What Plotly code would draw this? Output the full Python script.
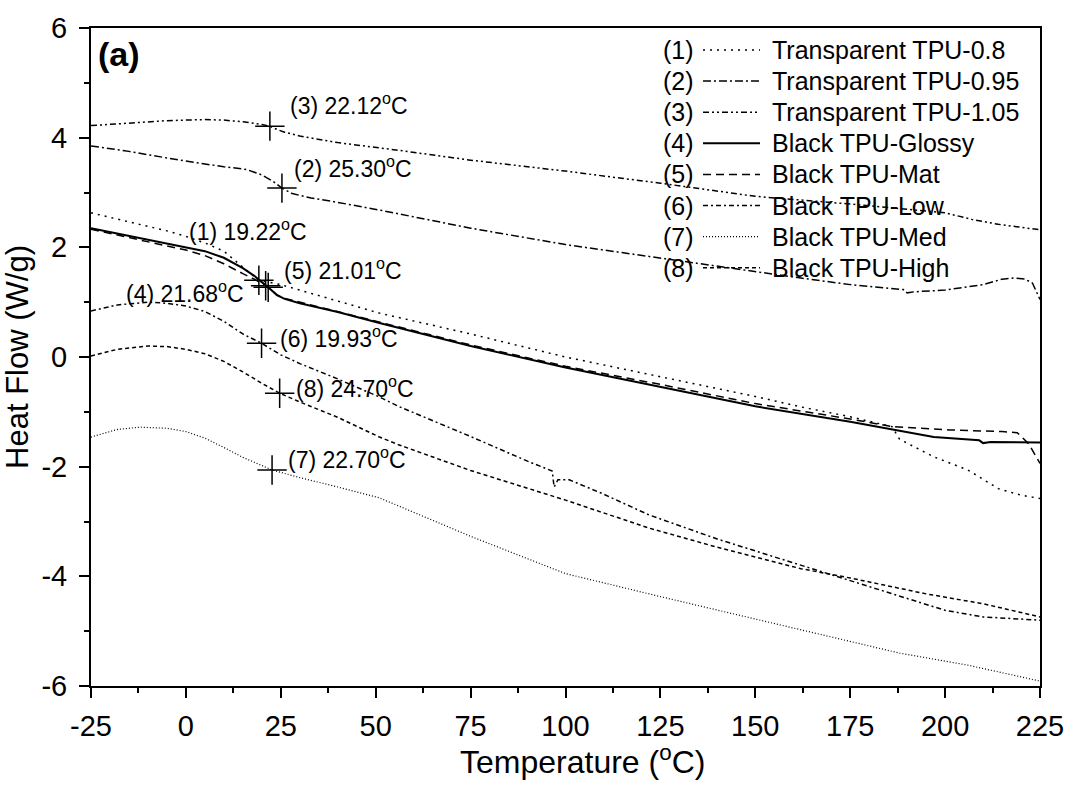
import plotly.graph_objects as go

# ---------------- data ----------------
names = ["Transparent TPU-0.8", "Transparent TPU-0.95", "Transparent TPU-1.05",
         "Black TPU-Glossy", "Black TPU-Mat", "Black TPU-Low", "Black TPU-Med", "Black TPU-High"]
labels_num = ["(1)", "(2)", "(3)", "(4)", "(5)", "(6)", "(7)", "(8)"]

t1 = [-25, -15, -5, 0, 5, 10, 13, 16, 19.22, 22, 25, 30, 40, 51, 75, 100, 125, 150, 162, 175, 186, 188, 197, 206, 214, 220, 225]
h1 = [2.63, 2.47, 2.30, 2.20, 2.08, 1.93, 1.75, 1.58, 1.40, 1.36, 1.32, 1.22, 1.02, 0.80, 0.42, 0.00, -0.36, -0.72, -0.91, -1.09, -1.27, -1.50, -1.82, -2.06, -2.40, -2.52, -2.58]

t2 = [-25, -15, -5, 0, 5, 10, 16, 20, 23, 25.3, 28, 33, 40, 51, 75, 100, 125, 150, 162, 175, 189, 190, 192, 200, 210, 215, 218, 221, 223, 225]
h2 = [3.85, 3.75, 3.63, 3.57, 3.52, 3.47, 3.42, 3.32, 3.20, 3.08, 2.98, 2.90, 2.82, 2.68, 2.35, 2.05, 1.80, 1.56, 1.44, 1.32, 1.23, 1.17, 1.19, 1.22, 1.32, 1.42, 1.44, 1.42, 1.35, 1.05]

t3 = [-25, -15, -5, 0, 5, 10, 15, 20, 22.12, 24, 26, 30, 40, 56, 75, 100, 125, 150, 175, 200, 207, 214, 220, 225]
h3 = [4.22, 4.27, 4.31, 4.32, 4.33, 4.32, 4.29, 4.24, 4.21, 4.15, 4.10, 4.03, 3.91, 3.77, 3.59, 3.39, 3.17, 2.93, 2.79, 2.63, 2.51, 2.42, 2.36, 2.32]

t4 = [-25, -15, -5, 0, 5, 10, 15, 18, 20, 21.68, 24, 26, 30, 40, 51, 75, 100, 125, 150, 175, 197, 209, 210, 212, 225]
h4 = [2.35, 2.21, 2.08, 2.00, 1.93, 1.81, 1.62, 1.48, 1.37, 1.27, 1.13, 1.06, 0.98, 0.82, 0.62, 0.20, -0.19, -0.55, -0.90, -1.18, -1.46, -1.52, -1.57, -1.55, -1.56]

t5 = [-25, -15, -5, 0, 5, 10, 15, 18, 21.01, 24, 26, 30, 40, 51, 75, 100, 125, 150, 175, 186, 201, 215, 219, 222, 225]
h5 = [2.33, 2.18, 2.03, 1.95, 1.85, 1.70, 1.52, 1.42, 1.30, 1.13, 1.07, 1.00, 0.83, 0.64, 0.22, -0.17, -0.50, -0.85, -1.13, -1.27, -1.33, -1.36, -1.38, -1.58, -1.94]

t6 = [-25, -18, -10, -5, 0, 5, 10, 15, 19.93, 25, 30, 40, 51, 56, 75, 90, 96.5, 97, 98, 101, 110, 122, 140, 162, 175, 190, 195, 200, 210, 225]
h6 = [0.84, 0.95, 1.00, 0.98, 0.93, 0.83, 0.65, 0.42, 0.25, 0.04, -0.12, -0.40, -0.73, -0.90, -1.45, -1.90, -2.08, -2.37, -2.24, -2.24, -2.50, -2.88, -3.32, -3.80, -4.08, -4.40, -4.52, -4.62, -4.74, -4.80]

t7 = [-25, -18, -12, -5, 0, 5, 10, 15, 22.70, 30, 40, 51, 75, 100, 125, 150, 175, 188, 206, 225]
h7 = [-1.46, -1.32, -1.28, -1.30, -1.36, -1.48, -1.65, -1.83, -2.06, -2.20, -2.37, -2.57, -3.27, -3.95, -4.37, -4.78, -5.18, -5.40, -5.62, -5.91]

t8 = [-25, -18, -10, -5, 0, 5, 10, 15, 20, 24.70, 30, 40, 51, 56, 75, 100, 122, 140, 162, 175, 195, 210, 225]
h8 = [0.02, 0.14, 0.20, 0.19, 0.14, 0.06, -0.08, -0.27, -0.48, -0.66, -0.82, -1.10, -1.46, -1.60, -2.07, -2.61, -3.12, -3.47, -3.86, -4.03, -4.32, -4.50, -4.74]

# glass-transition markers
tg_temp = [19.22, 25.30, 22.12, 21.68, 21.01, 19.93, 22.70, 24.70]
tg_flow = [1.40, 3.08, 4.21, 1.27, 1.30, 0.25, -2.06, -0.66]
tg_text = ["(1) 19.22<sup>o</sup>C", "(2) 25.30<sup>o</sup>C", "(3) 22.12<sup>o</sup>C",
           "(4) 21.68<sup>o</sup>C", "(5) 21.01<sup>o</sup>C", "(6) 19.93<sup>o</sup>C",
           "(7) 22.70<sup>o</sup>C", "(8) 24.70<sup>o</sup>C"]

x_ticks = [-25, 0, 25, 50, 75, 100, 125, 150, 175, 200, 225]
x_ticklabels = ["-25", "0", "25", "50", "75", "100", "125", "150", "175", "200", "225"]
y_ticks = [-6, -4, -2, 0, 2, 4, 6]
y_ticklabels = ["-6", "-4", "-2", "0", "2", "4", "6"]

# ---------------- styling ----------------
FONT = "Liberation Sans, Arial, sans-serif"
temps = [t1, t2, t3, t4, t5, t6, t7, t8]
flows = [h1, h2, h3, h4, h5, h6, h7, h8]
dashes = ["2px,5px", "8px,3px,2px,3px", "6px,3px,2px,3px,2px,3px", "solid",
          "8px,5px", "5px,3px,2px,3px", "1px,2px", "4px,3px"]
widths = [1.5, 1.5, 1.5, 2.0, 1.5, 1.5, 1.2, 1.5]

L, R, T, B = 91, 29, 28, 99
W, H = 1069, 785
PW, PH = W - L - R, H - T - B


def px2paper_x(px):
    return (px - L) / PW


def px2paper_y(py):
    return 1 - (py - T) / PH


fig = go.Figure()
for i in range(8):
    fig.add_trace(go.Scatter(x=temps[i], y=flows[i], mode="lines", name=names[i],
                             showlegend=False,
                             line=dict(color="black", width=widths[i], dash=dashes[i])))

fig.add_trace(go.Scatter(x=tg_temp, y=tg_flow, mode="markers", showlegend=False,
                         marker=dict(symbol="cross-thin", size=21, color="black",
                                     line=dict(color="black", width=1.5))))

# annotation offsets (pixels) relative to each marker
offs = [(-72, 50, "left"), (10, 21, "left"), (18, 22, "left"), (-22, -5, "right"),
        (16, 17, "left"), (16, 6, "left"), (14, 12, "left"), (14, 6, "left")]
for i in range(8):
    dx, dy, anc = offs[i]
    fig.add_annotation(x=tg_temp[i], y=tg_flow[i], text=tg_text[i], showarrow=False,
                       xanchor=anc, yanchor="middle", xshift=dx, yshift=dy,
                       font=dict(family=FONT, size=23, color="black"))

fig.add_annotation(x=px2paper_x(96), y=px2paper_y(33), xref="paper", yref="paper", text="<b>(a)</b>",
                   showarrow=False, xanchor="left", yanchor="top",
                   font=dict(family=FONT, size=34, color="black"))

# legend (drawn manually: number, line sample, name)
for i in range(8):
    py = 50 + 31.1 * i
    yp = px2paper_y(py)
    fig.add_annotation(x=px2paper_x(661), y=yp, xref="paper", yref="paper",
                       text=labels_num[i], showarrow=False, xanchor="left", yanchor="middle",
                       font=dict(family=FONT, size=25, color="black"))
    fig.add_shape(type="line", xref="paper", yref="paper",
                  x0=px2paper_x(703), x1=px2paper_x(760), y0=yp, y1=yp,
                  line=dict(color="black", width=widths[i], dash=dashes[i]))
    fig.add_annotation(x=px2paper_x(770), y=yp, xref="paper", yref="paper",
                       text=names[i], showarrow=False, xanchor="left", yanchor="middle",
                       font=dict(family=FONT, size=25, color="black"))

# x axis title
fig.add_annotation(x=px2paper_x(582), y=px2paper_y(760), xref="paper", yref="paper",
                   text="Temperature (<sup>o</sup>C)", showarrow=False,
                   xanchor="center", yanchor="middle",
                   font=dict(family=FONT, size=32, color="black"))

axis_common = dict(showline=True, linecolor="black", linewidth=2, mirror=True,
                   ticks="outside", ticklen=10, tickwidth=2, tickcolor="black",
                   showgrid=False, zeroline=False,
                   tickfont=dict(family=FONT, size=29, color="black"))

fig.update_xaxes(range=[-25, 225], tickvals=x_ticks, ticktext=x_ticklabels,
                 minor=dict(dtick=12.5, tick0=-25, ticks="outside", ticklen=5, tickwidth=2, tickcolor="black"),
                 ticklabelstandoff=3,
                 **axis_common)
fig.update_yaxes(range=[-6, 6], tickvals=y_ticks, ticktext=y_ticklabels,
                 minor=dict(dtick=1, tick0=-6, ticks="outside", ticklen=5, tickwidth=2, tickcolor="black"),
                 ticklabelstandoff=6,
                 title=dict(text="Heat Flow (W/g)", font=dict(family=FONT, size=31, color="black"),
                            standoff=4),
                 **axis_common)

fig.update_layout(
    width=W, height=H,
    margin=dict(l=L, r=R, t=T, b=B, autoexpand=False),
    plot_bgcolor="white", paper_bgcolor="white",
    showlegend=False,
)

fig.write_html("out.html")
